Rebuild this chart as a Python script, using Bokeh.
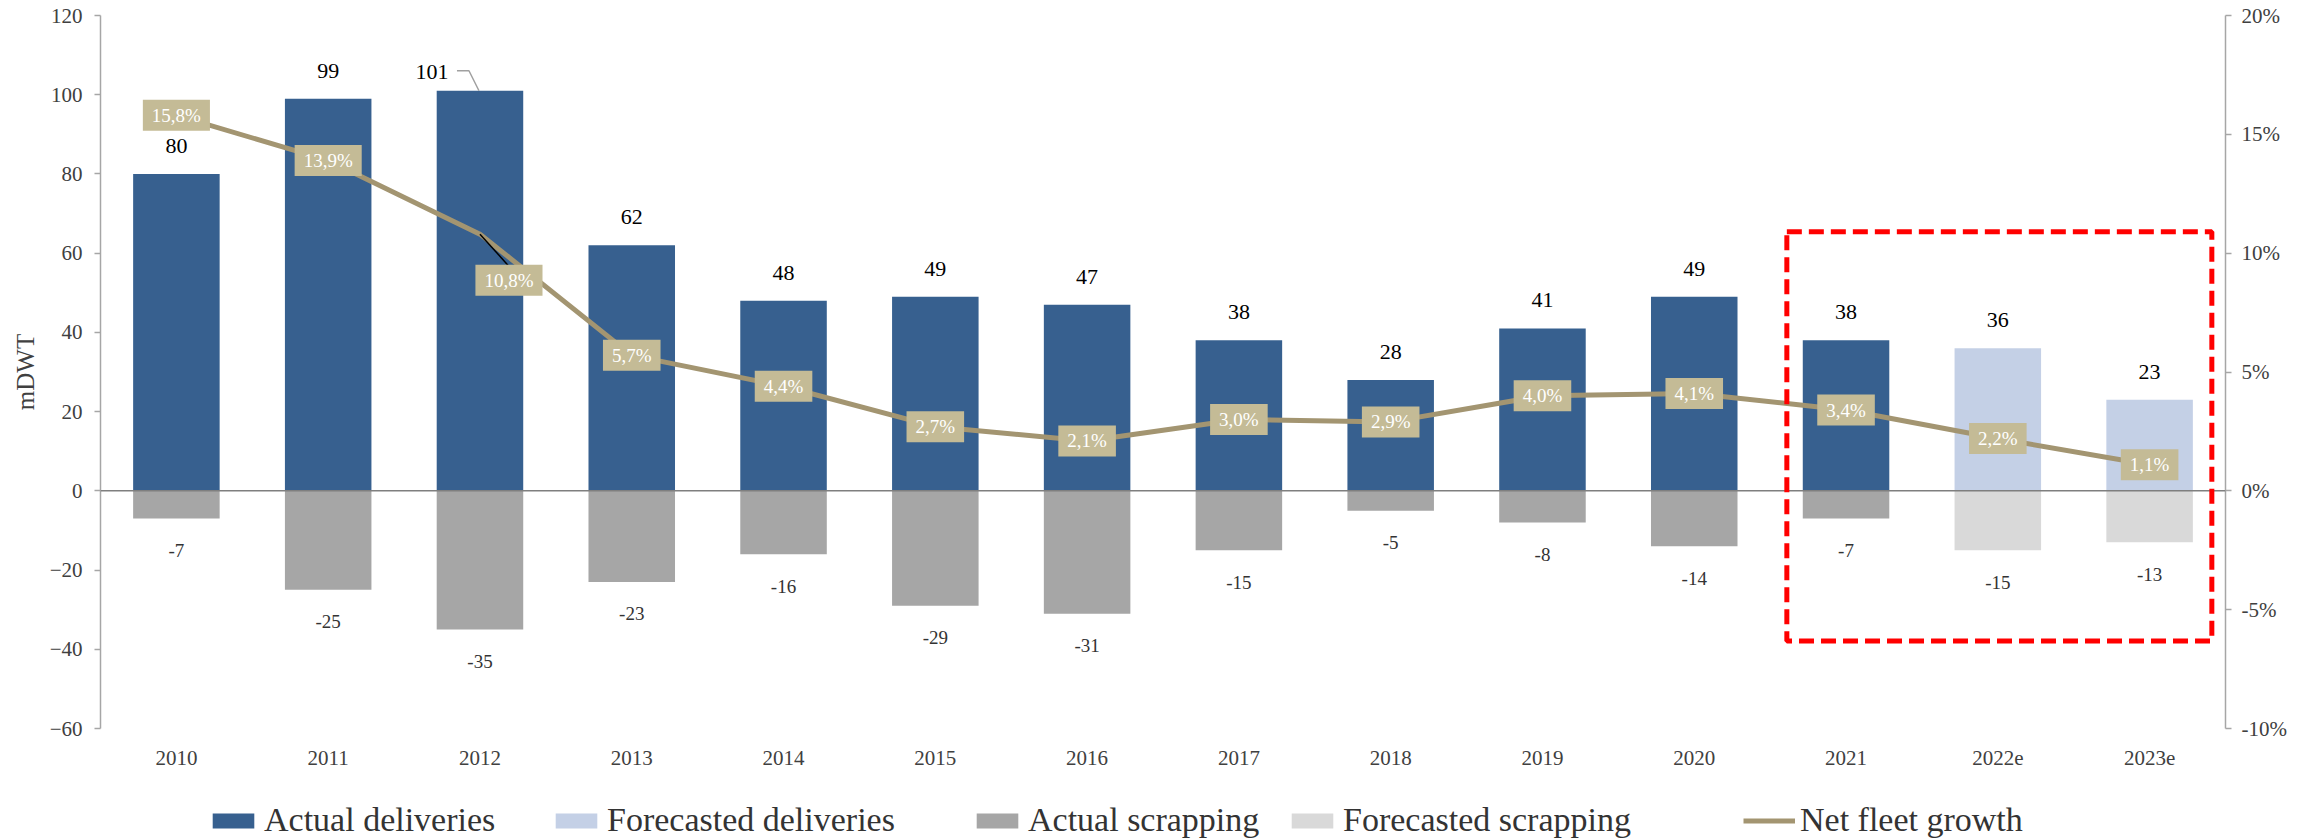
from bokeh.plotting import figure
from bokeh.layouts import column
from bokeh.models import (FactorRange, Range1d, LinearAxis, Span, BoxAnnotation,
                          Legend, LegendItem, ColumnDataSource, FixedTicker,
                          PrintfTickFormatter)
from bokeh.core.properties import value
from bokeh.embed import file_html
from bokeh.resources import INLINE

# ---------------- data ----------------
years = ["2010", "2011", "2012", "2013", "2014", "2015", "2016", "2017",
         "2018", "2019", "2020", "2021", "2022e", "2023e"]
deliveries = [80, 99, 101, 62, 48, 49, 47, 38, 28, 41, 49, 38, 36, 23]
scrapping = [-7, -25, -35, -23, -16, -29, -31, -15, -5, -8, -14, -7, -15, -13]
growth = [15.8, 13.9, 10.8, 5.7, 4.4, 2.7, 2.1, 3.0, 2.9, 4.0, 4.1, 3.4, 2.2, 1.1]
n_actual = 12  # 2010..2021 actual, 2022e/2023e forecast
y_ticks = [-60, -40, -20, 0, 20, 40, 60, 80, 100, 120]
pct_ticks = [-10, -5, 0, 5, 10, 15, 20]
legend_labels = ["Actual deliveries", "Forecasted deliveries", "Actual scrapping",
                 "Forecasted scrapping", "Net fleet growth"]

# ---------------- layout ----------------
W = 2305
H_LEG = 60
H = 839 - H_LEG
BL, BR, BT, BB = 100, 80, 15, 51
FW, FH = W - BL - BR, H - BT - BB
px_per_cat = FW / len(years)
px_per_unit = FH / (y_ticks[-1] - y_ticks[0])
px_per_pct = FH / (pct_ticks[-1] - pct_ticks[0])

FONT = value("Liberation Serif")
C_ACT_D = "#37608F"
C_FC_D = "#C4D0E6"
C_ACT_S = "#A6A6A6"
C_FC_S = "#D9D9D9"
C_LINE = "#A39571"
C_BOX = "#C4BB96"
C_AX = "#A6A6A6"
C_TXT = "#404040"

p = figure(width=W, height=H, x_range=FactorRange(factors=years),
           y_range=Range1d(y_ticks[0], y_ticks[-1]),
           output_backend="svg", toolbar_location=None,
           min_border_left=BL, min_border_right=BR,
           min_border_top=BT, min_border_bottom=BB)
p.extra_y_ranges = {"pct": Range1d(pct_ticks[0], pct_ticks[-1])}
p.xgrid.visible = False
p.ygrid.visible = False
p.outline_line_color = None

# left axis
ya = p.yaxis[0]
ya.ticker = FixedTicker(ticks=y_ticks)
ya.axis_line_color = C_AX
ya.axis_line_width = 1.5
ya.major_tick_line_color = C_AX
ya.major_tick_line_width = 1.5
ya.major_tick_out = 6
ya.major_tick_in = 0
ya.minor_tick_line_color = None
ya.major_label_standoff = 12
ya.major_label_text_font = "Liberation Serif"
ya.major_label_text_font_size = "21px"
ya.major_label_text_color = C_TXT
ya.axis_label = "mDWT"
ya.axis_label_text_font = "Liberation Serif"
ya.axis_label_text_font_size = "25px"
ya.axis_label_text_font_style = "normal"
ya.axis_label_text_color = C_TXT
ya.axis_label_standoff = 8

# right axis
ra = LinearAxis(y_range_name="pct", ticker=FixedTicker(ticks=pct_ticks),
                formatter=PrintfTickFormatter(format="%d%%"))
ra.axis_line_color = C_AX
ra.axis_line_width = 1.5
ra.major_tick_line_color = C_AX
ra.major_tick_line_width = 1.5
ra.major_tick_out = 6
ra.major_tick_in = 0
ra.minor_tick_line_color = None
ra.major_label_standoff = 10
ra.major_label_text_font = "Liberation Serif"
ra.major_label_text_font_size = "21px"
ra.major_label_text_color = C_TXT
p.add_layout(ra, "right")

# x axis
xa = p.xaxis[0]
xa.axis_line_color = None
xa.major_tick_line_color = None
xa.minor_tick_line_color = None
xa.major_label_standoff = 16
xa.major_label_text_font = "Liberation Serif"
xa.major_label_text_font_size = "21px"
xa.major_label_text_color = C_TXT

# ---------------- bars ----------------
src_act = ColumnDataSource(dict(x=years[:n_actual], d=deliveries[:n_actual], s=scrapping[:n_actual]))
src_fc = ColumnDataSource(dict(x=years[n_actual:], d=deliveries[n_actual:], s=scrapping[n_actual:]))
BW = 0.57
p.vbar(x="x", top="d", bottom=0, width=BW, source=src_act, fill_color=C_ACT_D, line_color=None)
p.vbar(x="x", top="d", bottom=0, width=BW, source=src_fc, fill_color=C_FC_D, line_color=None)
p.vbar(x="x", top=0, bottom="s", width=BW, source=src_act, fill_color=C_ACT_S, line_color=None)
p.vbar(x="x", top=0, bottom="s", width=BW, source=src_fc, fill_color=C_FC_S, line_color=None)

p.add_layout(Span(location=0, dimension="width", line_color="#7F7F7F", line_width=1.5))

# ---------------- growth line ----------------
p.line(x=years, y=growth, y_range_name="pct", line_color=C_LINE, line_width=5)

# ---------------- labels ----------------
i_peak = deliveries.index(max(deliveries))
xo_top = [0] * len(years)
yo_top = [-28] * len(years)
xo_top[i_peak] = -48
yo_top[i_peak] = -19
p.text(x=years, y=deliveries, text=[str(v) for v in deliveries],
       x_offset=xo_top, y_offset=yo_top,
       text_font=FONT, text_font_size="22px", text_color="#000000",
       text_align="center", text_baseline="middle")
# leader for peak label
cx = i_peak + 0.5
dyv = deliveries[i_peak]
p.line(x=[cx - 23 / px_per_cat, cx - 11 / px_per_cat, cx - 1 / px_per_cat],
       y=[dyv + 20 / px_per_unit, dyv + 20 / px_per_unit, dyv],
       line_color="#A0A0A0", line_width=1.5)

p.text(x=years, y=scrapping, text=[str(v) for v in scrapping],
       y_offset=[32] * len(years),
       text_font=FONT, text_font_size="19px", text_color="#333333",
       text_align="center", text_baseline="middle")

# growth labels
i_off = 2
xo_g = [0] * len(years)
yo_g = [0] * len(years)
xo_g[i_off] = 29
yo_g[i_off] = 46
gx = i_off + 0.5
gy = growth[i_off]
p.line(x=[gx, gx + 28 / px_per_cat], y=[gy, gy - 31 / px_per_pct], y_range_name="pct",
       line_color="#000000", line_width=1.5)
p.text(x=years, y=growth, text=[f"{v:.1f}%".replace(".", ",") for v in growth],
       x_offset=xo_g, y_offset=yo_g, y_range_name="pct",
       text_font=FONT, text_font_size="19px", text_color="#FFFFFF",
       text_align="center", text_baseline="middle",
       background_fill_color=C_BOX,
       padding=dict(left=9, right=9, top=5, bottom=5))

# highlight box around 2021 - 2023e
i0 = years.index("2021")
i1 = years.index("2023e")
p.add_layout(BoxAnnotation(left=i0 + 0.11, right=i1 + 0.91, top=65.4, bottom=-37.9,
                           fill_alpha=0, line_color="#FF0000", line_alpha=1.0,
                           line_width=5, line_dash="15 7"))

# ---------------- legend strip ----------------
# (frame of this strip is aligned with the main frame, so offsets are relative to BL)
pl = figure(width=W, height=H_LEG, x_range=Range1d(0, 1), y_range=Range1d(0, 1),
            output_backend="svg", toolbar_location=None,
            x_axis_location=None, y_axis_location=None,
            min_border_left=BL, min_border_right=BR, min_border_top=0, min_border_bottom=0)
pl.xgrid.visible = False
pl.ygrid.visible = False
pl.outline_line_color = None
NAN = float("nan")
lg_rs = [
    pl.vbar(x=[NAN], top=[NAN], width=BW, fill_color=C_ACT_D, line_color=None),
    pl.vbar(x=[NAN], top=[NAN], width=BW, fill_color=C_FC_D, line_color=None),
    pl.vbar(x=[NAN], top=[NAN], width=BW, fill_color=C_ACT_S, line_color=None),
    pl.vbar(x=[NAN], top=[NAN], width=BW, fill_color=C_FC_S, line_color=None),
    pl.line(x=[NAN], y=[NAN], line_color=C_LINE, line_width=5),
]
leg_x = [207, 550, 971, 1286, 1743]
for lab, r, lx in zip(legend_labels, lg_rs, leg_x):
    lg = Legend(items=[LegendItem(label=lab, renderers=[r])], location=(lx - BL, 0))
    lg.label_text_font = "Liberation Serif"
    lg.label_text_font_size = "34px"
    lg.label_text_color = "#333333"
    lg.glyph_width = 52
    lg.glyph_height = 19
    lg.label_standoff = 5
    lg.padding = 0
    lg.margin = 0
    lg.border_line_color = None
    lg.background_fill_alpha = 0
    pl.add_layout(lg)

open("out.html", "w").write(file_html(column(p, pl, spacing=0), INLINE))
